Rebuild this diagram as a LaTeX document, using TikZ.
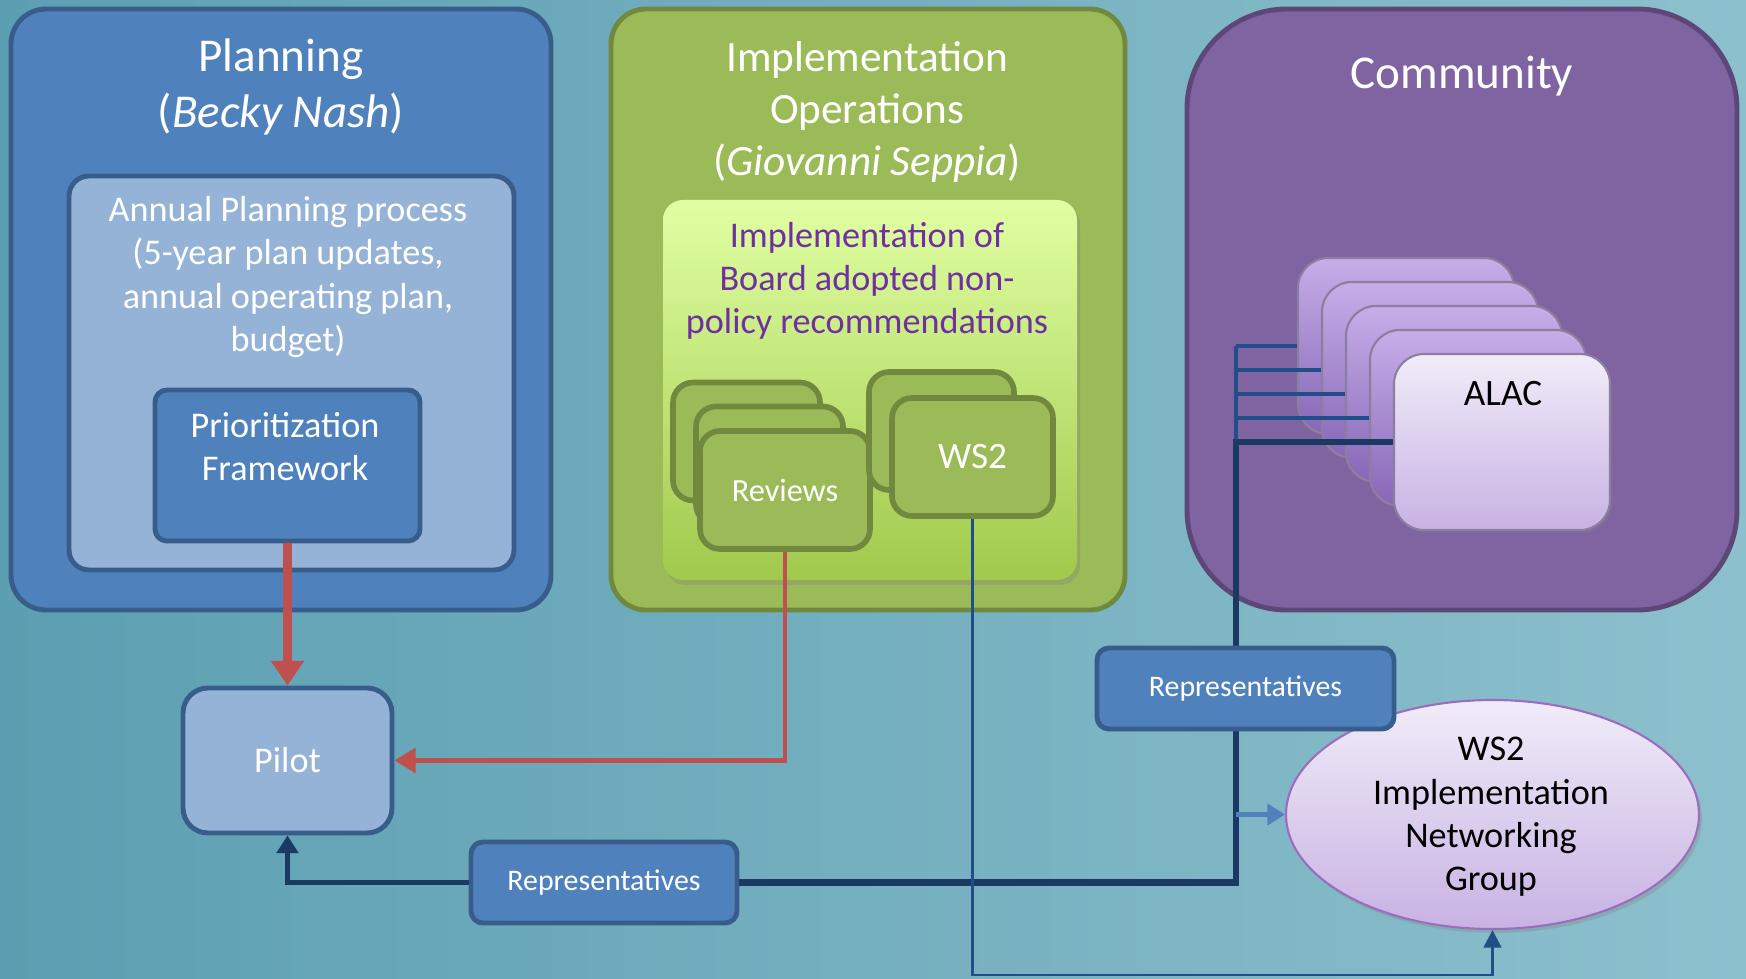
\documentclass[tikz,border=0pt]{standalone}
\usepackage{fontspec}
\setmainfont{Carlito}
\usetikzlibrary{shapes,positioning,arrows.meta,shadows}
\definecolor{bgleft}{HTML}{5C9FB2}
\definecolor{bgright}{HTML}{8DC0CD}
\definecolor{planfill}{HTML}{4F81BD}
\definecolor{planline}{HTML}{385D8A}
\definecolor{palefill}{HTML}{95B3D7}
\definecolor{implfill}{HTML}{9BBB59}
\definecolor{implline}{HTML}{71893F}
\definecolor{limetop}{HTML}{E0FFA3}
\definecolor{limebottom}{HTML}{A1C94C}
\definecolor{recpurple}{HTML}{7030A0}
\definecolor{commfill}{HTML}{8064A2}
\definecolor{commline}{HTML}{5C4776}
\definecolor{lilactop}{HTML}{C6AEE8}
\definecolor{lilacbottom}{HTML}{8766B7}
\definecolor{paletop}{HTML}{F1ECF9}
\definecolor{palebottom}{HTML}{C8B2E3}
\definecolor{redlink}{HTML}{C0504D}
\definecolor{navylink}{HTML}{1B3A63}
\definecolor{bluelink}{HTML}{1F4E89}
\begin{document}
\begin{tikzpicture}[font=\fontsize{10.3}{12.3}\selectfont]
\tikzstyle{panel}=[rectangle,rounded corners=0.35cm,line width=1.4pt,inner sep=0pt]
\tikzstyle{blue}=[rectangle,rounded corners=0.12cm,fill=planfill,draw=planline,line width=1.4pt,inner sep=0pt]
\tikzstyle{pale}=[rectangle,rounded corners=0.25cm,fill=palefill,draw=planline,line width=1.4pt,inner sep=0pt]
\tikzstyle{green}=[rectangle,rounded corners=0.2cm,fill=implfill,draw=implline,line width=1.6pt,minimum width=1.47cm,minimum height=1.18cm,inner sep=0pt]
\tikzstyle{lilac}=[rectangle,rounded corners=0.3cm,top color=lilactop,bottom color=lilacbottom,draw=commline!70,line width=0.6pt,minimum width=2.16cm,minimum height=1.76cm]
\tikzstyle{title}=[text=white,align=center,font=\fontsize{13.4}{15.9}\selectfont]
\tikzstyle{body}=[text=white,align=center]
\tikzstyle{reps}=[blue,minimum width=2.66cm,minimum height=0.81cm,text=white,font=\fontsize{8.5}{10}\selectfont]
\fill[left color=bgleft,right color=bgright] (0,0) rectangle (17.46,9.78);

\node[panel,fill=planfill,draw=planline,minimum width=5.40cm,minimum height=6.01cm] (plan) at (2.81,6.685) {};
\node[title] (plantitle) at (2.81,8.91) {Planning\\(\textit{Becky Nash})};
\node[pale,rounded corners=0.2cm,minimum width=4.45cm,minimum height=3.94cm] (annual) at (2.915,6.05) {};
\node[body] (annualtext) at (2.88,7.01) {Annual Planning process\\(5-year plan updates,\\annual operating plan,\\budget)};
\node[blue,minimum width=2.65cm,minimum height=1.51cm] (prio) at (2.875,5.125) {};
\node[body] (priotext) at (2.85,5.31) {Prioritization\\Framework};
\node[pale,minimum width=2.09cm,minimum height=1.45cm,text=white] (pilot) at (2.875,2.175) {Pilot};

\node[panel,fill=implfill,draw=implline,minimum width=5.14cm,minimum height=6.01cm] (impl) at (8.68,6.685) {};
\node[title,font=\fontsize{12.3}{14.8}\selectfont] (impltitle) at (8.67,8.66) {Implementation\\Operations\\(\textit{Giovanni Seppia})};
\node[rectangle,rounded corners=0.2cm,top color=limetop,bottom color=limebottom,minimum width=4.14cm,minimum height=3.80cm,drop shadow={shadow xshift=0.03,shadow yshift=-0.05,opacity=0.3}] (adopted) at (8.70,5.88) {};
\node[text=recpurple,align=center] (adoptedtext) at (8.67,6.97) {Implementation of\\Board adopted non-\\policy recommendations};
\node[green] (rev1) at (7.465,5.365) {};
\node[green] (rev2) at (7.695,5.125) {};
\node[green,minimum width=1.70cm,text=white,font=\fontsize{9.2}{11}\selectfont] (rev3) at (7.85,4.88) {Reviews};
\node[green,minimum width=1.45cm] (ws1) at (9.415,5.47) {};
\node[green,minimum width=1.61cm,text=white,font=\fontsize{10.6}{12.5}\selectfont] (ws2) at (9.725,5.21) {WS2};

\node[panel,rounded corners=1cm,fill=commfill,draw=commline,minimum width=5.50cm,minimum height=6.01cm] (comm) at (14.62,6.685) {};
\node[title] (commtitle) at (14.62,9.02) {Community};
\foreach \i/\x/\y in {1/14.06/6.32,2/14.30/6.08,3/14.54/5.84,4/14.78/5.60}
  \node[lilac] (a\i) at (\x,\y) {};
\node[lilac,top color=paletop,bottom color=palebottom,drop shadow={shadow xshift=0.02,shadow yshift=-0.03,opacity=0.3}] (alac) at (15.02,5.36) {};
\node[font=\fontsize{10.6}{12.5}\selectfont] (alactext) at (15.03,5.84) {ALAC};

\node[ellipse,top color=paletop,bottom color=palebottom,draw=recpurple!70,line width=0.6pt,minimum width=4.13cm,minimum height=2.29cm,inner sep=0pt,drop shadow={shadow xshift=0.03,shadow yshift=-0.04,opacity=0.3}] (ell) at (14.925,1.635) {};
\node[align=center] (elltext) at (14.91,1.61) {WS2\\Implementation\\Networking\\Group};
\node[reps] (repB) at (6.04,0.955) {Representatives};

\coordinate (trunk) at (12.36,0);
\coordinate (floor) at (0,0.03);
\foreach \i in {1,...,4}
  \draw[bluelink,line width=0.9pt] (a\i.west) -- (a\i.west -| trunk);
\draw[bluelink,line width=0.9pt] (a1.west -| trunk) -- (alac.west -| trunk);
\draw[navylink,line width=1.8pt] (alac.west) -| (repB.east -| trunk) -- (repB.east);
\draw[planfill,line width=1.5pt,-{Triangle[width=6pt,length=5pt]}] (ell.west -| trunk) -- (ell.west);
\draw[navylink,line width=1.6pt,-{Triangle[width=6pt,length=5pt]}] (repB.west) -| (pilot.south);
\draw[redlink,line width=1.3pt,-{Triangle[width=7pt,length=6pt]}] (rev3.south) |- (pilot.east);
\draw[redlink,line width=2.6pt,-{Triangle[width=9pt,length=7pt]}] (prio.south) -- (pilot.north);
\draw[bluelink,line width=0.8pt,-{Triangle[width=5pt,length=5pt]}] (ws2.south) -- (ws2.south |- floor) -| (ell.south);

\node[reps,minimum width=2.97cm] (repA) at (12.455,2.895) {Representatives};
\end{tikzpicture}
\end{document}
